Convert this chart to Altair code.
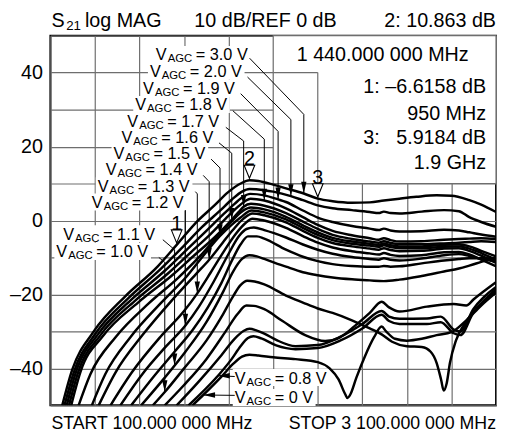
import altair as alt
import pandas as pd

FONT = "Liberation Sans"
GRID_C = "#6e6e6e"
MHZ_PER_PX = 3000 / 452  # only used to size the white label backgrounds

X_GRID = [100, 400, 700, 1000, 1300, 1600, 1900, 2200, 2500, 2800, 3100]
Y_GRID = [-50, -40, -30, -20, -10, 0, 10, 20, 30, 40, 50]
Y_TICK_TEXT = {40: "40", 20: "20", 0: "0", -20: "–20", -40: "–40"}

# ---- S21 traces (frequency MHz, dB) ----
T01 = [(180,-50),(246,-40.5),(392,-30),(604,-20.5),(823,-12.4),(950,-6.6),(1082,-0.5),(1208,4.2),(1295,7.6),(1381,10.0),(1440,10.9),(1500,10.7),(1600,9.7),(1686,8.7),(1806,7.3),(1900,5.9),(2000,5.2),(2130,4.8),(2250,4.9),(2345,5.4),(2450,5.9),(2564,6.4),(2700,6.8),(2800,6.7),(2920,5.5),(3000,4.3),(3100,2.3)]
T02 = [(195,-50),(258,-41),(405,-30.5),(625,-21),(845,-13),(985,-7.4),(1120,-1.8),(1240,2.6),(1320,5.6),(1390,7.8),(1440,8.5),(1540,8.2),(1600,7.8),(1719,6.6),(1800,5.5),(1900,4.1),(2000,3.3),(2130,2.8),(2250,2.3),(2310,2.0),(2345,2.4),(2390,2.0),(2450,1.9),(2600,2.4),(2750,2.8),(2850,2.5),(2920,0.9),(3000,-0.4),(3100,-1.7)]
T03 = [(210,-50),(272,-41),(420,-30.8),(645,-21.4),(870,-13.6),(1015,-8),(1150,-2.8),(1260,1.5),(1340,4.5),(1400,6.5),(1445,7.2),(1540,6.8),(1633,5.7),(1686,5.0),(1800,2.7),(1900,0.8),(2000,-0.4),(2130,-1.5),(2250,-2.2),(2310,-2.6),(2345,-2.2),(2390,-2.7),(2450,-3.0),(2600,-2.9),(2750,-2.5),(2850,-2.7),(2920,-3.2),(3000,-3.8),(3100,-4.4)]
T04 = [(225,-50),(287,-41),(437,-31),(667,-21.8),(895,-14.2),(1045,-8.6),(1180,-3.6),(1280,0.5),(1360,3.6),(1410,5.2),(1447,5.9),(1540,5.4),(1686,3.3),(1800,0.9),(1900,-1.2),(2000,-2.8),(2130,-4.0),(2250,-4.8),(2310,-5.2),(2345,-4.8),(2390,-5.3),(2450,-5.7),(2600,-5.6),(2750,-5.2),(2850,-5.0),(2920,-4.9),(3000,-4.8),(3100,-5.0)]
T05 = [(240,-50),(302,-41),(455,-31.2),(690,-22.2),(920,-14.8),(1075,-9.2),(1210,-4.4),(1300,-0.7),(1370,2.4),(1401,3.7),(1450,4.5),(1540,4.0),(1686,2.0),(1800,-0.3),(1900,-2.3),(2000,-3.9),(2130,-5.0),(2250,-5.7),(2310,-6.0),(2345,-5.6),(2390,-6.1),(2450,-6.4),(2600,-6.4),(2750,-6.2),(2850,-6.0),(2920,-5.8),(3000,-5.6),(3100,-5.8)]
T06 = [(290,-50),(370,-41.5),(540,-31.5),(760,-22.5),(960,-15.5),(1110,-9.5),(1240,-3.6),(1330,0.2),(1395,2.6),(1450,3.5),(1540,3.0),(1686,1.0),(1800,-1.3),(1900,-3.2),(2000,-4.7),(2130,-5.7),(2250,-6.3),(2310,-6.6),(2345,-6.2),(2390,-6.7),(2450,-7.0),(2600,-7.0),(2750,-6.6),(2850,-6.5),(2920,-7.0),(3000,-8.2),(3100,-9.7)]
T07 = [(379,-50),(470,-41.5),(640,-31.5),(840,-22.5),(1020,-15),(1150,-8.5),(1242,-4.2),(1320,-1.2),(1380,0.8),(1455,2.7),(1540,2.2),(1686,0.3),(1800,-2.0),(1900,-3.9),(2000,-5.3),(2130,-6.3),(2250,-6.8),(2310,-7.1),(2345,-6.7),(2390,-7.2),(2450,-7.5),(2600,-7.5),(2750,-7.1),(2850,-7.0),(2920,-7.6),(3000,-8.8),(3100,-10.6)]
T08 = [(425,-50),(540,-41),(720,-31),(920,-21.5),(1080,-14.5),(1169,-10.6),(1260,-6),(1330,-2.5),(1400,0.5),(1460,1.9),(1540,1.4),(1686,-0.5),(1800,-2.8),(1900,-4.7),(2000,-6.1),(2130,-7.0),(2250,-7.6),(2310,-7.9),(2345,-7.5),(2390,-8.0),(2450,-8.3),(2600,-8.2),(2750,-7.6),(2850,-7.5),(2920,-8.2),(3000,-9.5),(3100,-11.5)]
T09 = [(505,-50),(650,-41),(840,-31.5),(1000,-24.5),(1089,-19.7),(1180,-14),(1270,-8.2),(1350,-3.5),(1410,-0.8),(1460,0.5),(1540,0.0),(1686,-2.0),(1800,-4.2),(1900,-6.0),(2000,-7.3),(2130,-8.3),(2250,-8.9),(2310,-9.2),(2345,-8.8),(2390,-9.3),(2450,-9.6),(2600,-9.4),(2750,-8.6),(2850,-8.5),(2920,-9.2),(3000,-10.6),(3100,-12.4)]
T10 = [(571,-50),(720,-41.5),(880,-34),(1009,-28.4),(1100,-23.3),(1200,-16.5),(1300,-9),(1370,-4.2),(1420,-2.3),(1470,-1.9),(1540,-2.6),(1686,-4.6),(1800,-6.5),(1900,-7.9),(2000,-9.0),(2130,-9.9),(2250,-10.4),(2310,-10.6),(2345,-10.2),(2390,-10.6),(2450,-10.8),(2600,-10.3),(2750,-9.4),(2850,-9.1),(2920,-9.6),(3000,-10.4),(3100,-11.0)]
T11 = [(644,-50),(800,-42),(936,-35.5),(1060,-29.5),(1160,-23.5),(1250,-17),(1320,-11),(1380,-6.5),(1430,-4.3),(1490,-4.3),(1540,-4.9),(1686,-7.9),(1800,-9.8),(1900,-11),(2000,-11.8),(2130,-12.3),(2250,-12.5),(2310,-12.5),(2345,-12.3),(2390,-12.5),(2450,-12.4),(2600,-11.6),(2750,-10.8),(2850,-10.4),(2920,-10.2),(3000,-10.2),(3100,-10.3)]
T12 = [(711,-50),(870,-42.5),(1009,-35.5),(1150,-27.5),(1260,-19.5),(1330,-13.8),(1390,-10.4),(1440,-9.4),(1490,-9.7),(1540,-10.4),(1686,-12.5),(1800,-14),(1900,-14.8),(2000,-15.4),(2130,-15.9),(2250,-16.2),(2345,-16.4),(2450,-16.0),(2600,-15.0),(2750,-13.8),(2850,-13.0),(2920,-12.2),(3000,-11.2),(3100,-10.0)]
T13 = [(790,-50),(870,-46.4),(1000,-40),(1150,-32.5),(1260,-25.5),(1330,-20.5),(1380,-17.5),(1425,-16.3),(1475,-16.5),(1540,-17.3),(1686,-20.3),(1800,-22.2),(1900,-23.8),(2000,-25),(2130,-27),(2250,-29.2),(2330,-30.8),(2400,-32.8),(2500,-34),(2600,-34.2),(2660,-35.5),(2700,-38.5),(2730,-43),(2748,-46),(2768,-44),(2790,-38.5),(2830,-32.5),(2900,-27.3),(3000,-22.5),(3100,-18.6)]
T14 = [(870,-50),(1000,-44.5),(1150,-37.5),(1280,-30),(1360,-25.3),(1420,-23),(1470,-23.1),(1540,-24.0),(1663,-27.2),(1815,-31),(1950,-32.6),(2050,-31.6),(2150,-28.5),(2250,-25.0),(2330,-22.0),(2380,-23.5),(2450,-24.6),(2635,-23.3),(2815,-22.6),(2900,-23.0),(2950,-21.3),(3100,-16.7)]
T15 = [(950,-50),(1100,-43.5),(1250,-36.5),(1340,-32),(1400,-29.9),(1440,-29.3),(1490,-29.8),(1540,-30.6),(1620,-32.3),(1750,-34.0),(1900,-33.7),(2050,-31.5),(2200,-28.0),(2330,-24.5),(2380,-26.0),(2450,-26.6),(2635,-26.5),(2728,-26.0),(2815,-29.5),(2860,-30.0),(2947,-24.0),(3100,-18.0)]
T16 = [(1030,-50),(1228,-42),(1320,-37.5),(1380,-34),(1430,-31.8),(1467,-31.3),(1520,-31.9),(1620,-33.8),(1750,-34.8),(1900,-34.5),(2050,-32.5),(2200,-29.2),(2330,-25.5),(2380,-27.2),(2450,-28.0),(2635,-28.0),(2728,-27.5),(2815,-30.5),(2860,-31.0),(2947,-25.0),(3100,-19.2)]
T17 = [(1056,-50),(1129,-47.2),(1250,-42.3),(1330,-38.8),(1390,-36.8),(1440,-36.3),(1500,-36.5),(1600,-37.0),(1750,-37.5),(1900,-38.3),(1980,-40.0),(2040,-43.0),(2085,-47.0),(2100,-48.0),(2120,-47.0),(2160,-42.5),(2220,-36.5),(2280,-31.5),(2330,-28.7),(2360,-30.0),(2420,-32.0),(2500,-32.5),(2600,-32.0),(2700,-31.0),(2800,-30.2),(2900,-27.0),(3000,-23.0),(3100,-19.5)]
TRACES = [T01, T02, T03, T04, T05, T06, T07, T08, T09, T10, T11, T12, T13, T14, T15, T16, T17]

# ---- V_AGC labels: value text, left edge (MHz), centre (dB), width (px) ----
LABELS = [
    ("= 3.0 V", 810, 44.9, 96), ("= 2.0 V", 770, 40.4, 96), ("= 1.9 V", 724, 35.8, 96),
    ("= 1.8 V", 671, 31.4, 96), ("= 1.7 V", 618, 27.0, 96), ("= 1.6 V", 578, 22.6, 96),
    ("= 1.5 V", 525, 18.2, 96), ("= 1.4 V", 472, 13.8, 96), ("= 1.3 V", 419, 9.4, 96),
    ("= 1.2 V", 379, 5.0, 96), ("= 1.1 V", 186, -3.6, 96), ("= 1.0 V", 140, -8.4, 96),
    ("= 0.8 V", 1341, -42.5, 96), ("= 0 V", 1341, -47.9, 82),
]
# leader polylines (MHz, dB); the last point is the arrow tip
LEADERS = {
    "3.0": [(1441, 43.9), (1806, 28.7), (1806, 7.3)],
    "2.0": [(1427, 38.8), (1719, 27.3), (1719, 6.6)],
    "1.9": [(1381, 34.3), (1633, 24.1), (1633, 5.7)],
    "1.8": [(1328, 29.7), (1540, 22.0), (1540, 5.4)],
    "1.7": [(1281, 25.2), (1401, 21.5), (1401, 3.7)],
    "1.6": [(1235, 21.0), (1321, 18.2), (1321, 0.2)],
    "1.5": [(1182, 16.6), (1242, 14.2), (1242, -4.2)],
    "1.4": [(1129, 12.2), (1169, 10.5), (1169, -10.6)],
    "1.3": [(1076, 7.8), (1089, 7.2), (1089, -19.7)],
    "1.2": [(1009, 2.8), (1009, -28.4)],
    "1.1": [(857, -5.2), (936, -7.9), (936, -39.2)],
    "1.0": [(830, -10.0), (870, -11.3), (870, -46.4)],
    "0.8": [(1341, -42.2), (1228, -42.0)],
    "0": [(1341, -47.3), (1129, -47.2)],
}
LEFT_ARROWS = {"0.8", "0"}

MARKERS = [("1", 950, -6.6), ("2", 1440, 10.9), ("3", 1900, 5.9)]
READOUT_CENTER = [("1 440.000 000 MHz", 2337, 44.7)]
READOUT_RIGHT = [("1: –6.6158 dB", 3033, 36.1), ("950 MHz", 3033, 28.9),
                 ("3:\u00a0\u00a0\u00a05.9184 dB", 3033, 22.3), ("1.9 GHz", 3033, 15.6)]
INFO_BOX = [(1600, 3100, 10, 50)]
BOX_LINES = [(1900, 1900, 10, 40), (1600, 1900, 40, 40)]

# ---------------- build ----------------
xs = alt.Scale(domain=[100, 3100], nice=False, zero=False)
ys = alt.Scale(domain=[-50, 50], nice=False, zero=False)
label_expr = " : ".join(f"datum.value == {k} ? '{v}'" for k, v in Y_TICK_TEXT.items()) + " : ''"
x_axis = alt.Axis(values=X_GRID, labels=False, ticks=False, domain=False, title=None,
                  grid=True, gridColor=GRID_C, gridWidth=1.2, gridOpacity=1)
y_axis = alt.Axis(values=Y_GRID, labelExpr=label_expr, ticks=False, domain=False, title=None,
                  grid=True, gridColor=GRID_C, gridWidth=1.2, gridOpacity=1,
                  labelFont=FONT, labelFontSize=20, labelColor="black", labelPadding=8)


def X(f):
    return alt.X(f, type="quantitative", scale=xs, axis=x_axis)


def Y(f):
    return alt.Y(f, type="quantitative", scale=ys, axis=y_axis)


curve_df = pd.DataFrame([{"trace": k, "i": i, "f": f, "db": d}
                         for k, pts in enumerate(TRACES) for i, (f, d) in enumerate(pts)])
lab_df = pd.DataFrame([{"rest": r, "f": f, "db": d,
                        "f0": f - 2 * MHZ_PER_PX, "f1": f + w * MHZ_PER_PX,
                        "d0": d - 2.3, "d1": d + 2.3, "V": "V", "AGC": "AGC"}
                       for r, f, d, w in LABELS])
lead_df = pd.DataFrame([{"lab": k, "i": i, "f": f, "db": d}
                        for k, pts in LEADERS.items() for i, (f, d) in enumerate(pts)])
tip_down = pd.DataFrame([{"f": p[-1][0], "db": p[-1][1]} for k, p in LEADERS.items() if k not in LEFT_ARROWS])
tip_left = pd.DataFrame([{"f": p[-1][0], "db": p[-1][1]} for k, p in LEADERS.items() if k in LEFT_ARROWS])
mk_df = pd.DataFrame([{"n": n, "f": f, "db": d} for n, f, d in MARKERS])
box_df = pd.DataFrame([{"f": a, "f2": b, "db": c, "db2": e} for a, b, c, e in INFO_BOX])
bl_df = pd.DataFrame([{"f": a, "f2": b, "db": c, "db2": e} for a, b, c, e in BOX_LINES])
rc_df = pd.DataFrame([{"t": t, "f": f, "db": d} for t, f, d in READOUT_CENTER])
rr_df = pd.DataFrame([{"t": t, "f": f, "db": d} for t, f, d in READOUT_RIGHT])

box = alt.Chart(box_df).mark_rect(fill="white", stroke=GRID_C, strokeWidth=1.2).encode(
    x=X("f"), x2="f2", y=Y("db"), y2="db2")
box_lines = alt.Chart(bl_df).mark_rule(color=GRID_C, strokeWidth=1.2).encode(
    x=X("f"), x2="f2", y=Y("db"), y2="db2")
lab_bg = alt.Chart(lab_df).mark_rect(fill="white").encode(x=X("f0"), x2="f1", y=Y("d0"), y2="d1")
curves = alt.Chart(curve_df).mark_line(color="black", strokeWidth=2.5, interpolate="monotone", clip=True).encode(
    x=X("f"), y=Y("db"), detail="trace:N", order="i:Q")
leaders = alt.Chart(lead_df).mark_line(color="black", strokeWidth=1).encode(
    x=X("f"), y=Y("db"), detail="lab:N", order="i:Q")
arrows_d = alt.Chart(tip_down).mark_point(shape="M-0.45,-2L0.45,-2L0,0Z", size=144, filled=True,
                                          color="black", opacity=1, strokeWidth=0).encode(x=X("f"), y=Y("db"))
arrows_l = alt.Chart(tip_left).mark_point(shape="M0,0L2,-0.45L2,0.45Z", size=144, filled=True,
                                          color="black", opacity=1, strokeWidth=0).encode(x=X("f"), y=Y("db"))
tri = alt.Chart(mk_df).mark_point(shape="M-0.9,-2.2L0.9,-2.2L0,0Z", size=144, filled=True, fill="white",
                                  stroke="black", strokeWidth=1.1, opacity=1, yOffset=-2).encode(x=X("f"), y=Y("db"))
nums = alt.Chart(mk_df).mark_text(font=FONT, fontSize=20, baseline="alphabetic", dy=-15, color="black").encode(
    x=X("f"), y=Y("db"), text="n:N")
t_v = alt.Chart(lab_df).mark_text(font=FONT, fontSize=16.5, align="left", baseline="alphabetic", dy=6,
                                  color="black").encode(x=X("f"), y=Y("db"), text="V:N")
t_sub = alt.Chart(lab_df).mark_text(font=FONT, fontSize=11.5, align="left", baseline="alphabetic", dx=12,
                                    dy=8, color="black").encode(x=X("f"), y=Y("db"), text="AGC:N")
t_rest = alt.Chart(lab_df).mark_text(font=FONT, fontSize=16.5, align="left", baseline="alphabetic", dx=40.5,
                                     dy=6, color="black").encode(x=X("f"), y=Y("db"), text="rest:N")
rc = alt.Chart(rc_df).mark_text(font=FONT, fontSize=20, align="center", baseline="middle", color="black").encode(
    x=X("f"), y=Y("db"), text="t:N")
rr = alt.Chart(rr_df).mark_text(font=FONT, fontSize=20, align="right", baseline="middle", color="black").encode(
    x=X("f"), y=Y("db"), text="t:N")

HEADER = [("S", 1, -9, 20, "left"), ("21", 16, -6, 13.5, "left"), ("log MAG", 35, -9, 20, "left"),
          ("10 dB/REF 0 dB", 146, -9, 20, "left"), ("2: 10.863 dB", 452, -9, 20, "right"),
          ("START 100.000 000 MHz", 1, 399, 18, "left"), ("STOP 3 100.000 000 MHz", 452, 399, 18, "right")]
heads = [alt.Chart(pd.DataFrame({"t": [t]})).mark_text(font=FONT, fontSize=fs, align=al, baseline="alphabetic",
                                                        color="black").encode(x=alt.value(px), y=alt.value(py), text="t:N")
         for t, px, py, fs, al in HEADER]

chart = alt.layer(box, lab_bg, curves, box_lines, leaders, arrows_d, arrows_l, tri, nums,
                  t_v, t_sub, t_rest, rc, rr, *heads).properties(
    width=452, height=375,
    padding={"left": 43, "top": 25, "right": 1, "bottom": 24},
    autosize=alt.AutoSizeParams(type="none"),
).configure_view(stroke="black", strokeWidth=2)

chart.save("out.html", embed_options={"renderer": "svg", "actions": False})
